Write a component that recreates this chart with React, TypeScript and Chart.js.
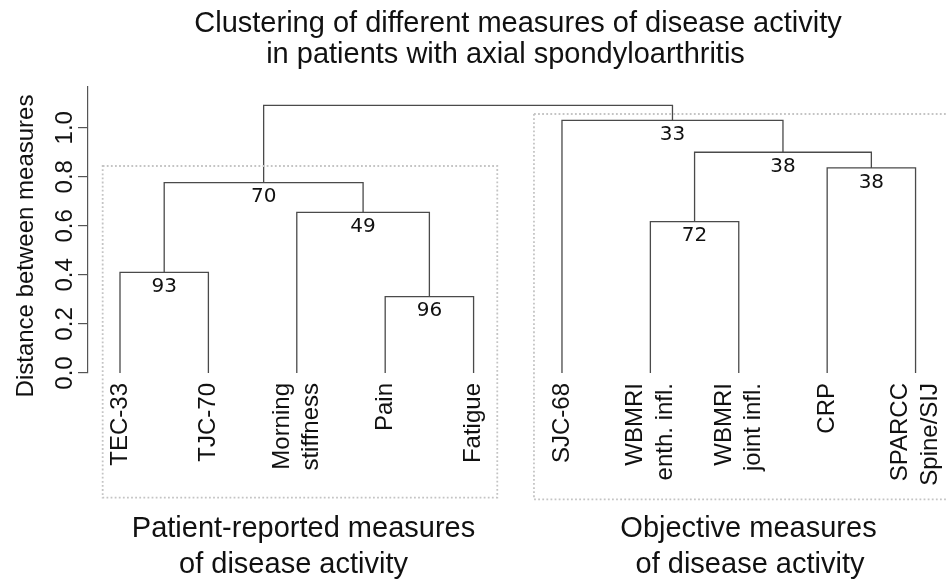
import React, { useEffect, useRef } from "react";
import { Chart, registerables } from "chart.js";

Chart.register(...registerables);

// ---------- data ----------
const leafLabels: string[][] = [
  ["TEC-33"],
  ["TJC-70"],
  ["Morning", "stiffness"],
  ["Pain"],
  ["Fatigue"],
  ["SJC-68"],
  ["WBMRI", "enth. infl."],
  ["WBMRI", "joint infl."],
  ["CRP"],
  ["SPARCC", "Spine/SIJ"],
];
// merge steps: negative = leaf (1-based), positive = earlier merge (1-based)
const mergeLeft = [-4, -1, -7, -3, 2, -9, 3, -6, 5];
const mergeRight = [-5, -2, -8, 1, 4, -10, 6, 7, 8];
const mergeHeight = [0.311, 0.41, 0.617, 0.655, 0.776, 0.836, 0.9, 1.03, 1.091];
const mergeSupport = ["96", "93", "72", "49", "70", "38", "38", "33", ""];
const yTicks = [0, 0.2, 0.4, 0.6, 0.8, 1.0];
const titleLines = [
  "Clustering of different measures of disease activity",
  "in patients with axial spondyloarthritis",
];
const yTitle = "Distance between measures";
const groupTitles = [
  ["Patient-reported measures", "of disease activity"],
  ["Objective measures", "of disease activity"],
];

// ---------- derived tree geometry (data units) ----------
const leafX = leafLabels.map((_, i) => i + 1);
const nodeX: number[] = [];
const nodePos = (id: number) =>
  id < 0 ? { x: leafX[-id - 1], h: 0 } : { x: nodeX[id - 1], h: mergeHeight[id - 1] };
const segments = mergeLeft.map((l, k) => {
  const a = nodePos(l);
  const b = nodePos(mergeRight[k]);
  const h = mergeHeight[k];
  nodeX[k] = (a.x + b.x) / 2;
  return [
    { x: a.x, y: a.h },
    { x: a.x, y: h },
    { x: b.x, y: h },
    { x: b.x, y: b.h },
  ];
});

const SANS = "'Liberation Sans', Arial, sans-serif";
const DEJAVU = "'DejaVu Sans', sans-serif";

const decorPlugin = {
  id: "decor",
  afterDraw(chart: any) {
    const ctx: CanvasRenderingContext2D = chart.ctx;
    const xs = chart.scales.x;
    const ys = chart.scales.y;
    const px = (v: number) => xs.getPixelForValue(v);
    const py = (v: number) => ys.getPixelForValue(v);
    ctx.save();

    // dotted group boxes
    ctx.strokeStyle = "#c4c4c4";
    ctx.lineWidth = 1.8;
    ctx.setLineDash([1.8, 2.3]);
    const boxes = [
      [0.804, 5.268, 0.844, -0.508],
      [5.683, 10.75, 1.056, -0.515],
    ];
    boxes.forEach(([x0, x1, y0, y1]) => {
      ctx.strokeRect(px(x0), py(y0), px(x1) - px(x0), py(y1) - py(y0));
    });
    ctx.setLineDash([]);

    // support numbers below merge lines
    ctx.fillStyle = "#111";
    ctx.font = `20px ${DEJAVU}`;
    ctx.textAlign = "center";
    ctx.textBaseline = "middle";
    mergeSupport.forEach((s, k) => {
      if (!s) return;
      ctx.fillText(s, px(nodeX[k]), py(mergeHeight[k]) + 14.5);
    });

    // leaf labels (rotated)
    ctx.font = `24px ${SANS}`;
    leafLabels.forEach((lines, i) => {
      ctx.save();
      ctx.translate(px(leafX[i]), py(0) + 10);
      ctx.rotate(-Math.PI / 2);
      ctx.textAlign = "right";
      ctx.textBaseline = "middle";
      const n = lines.length;
      lines.forEach((t, j) => {
        ctx.fillText(t, 0, (j - (n - 1) / 2) * 29.5);
      });
      ctx.restore();
    });

    // y tick labels (rotated)
    ctx.font = `24px ${SANS}`;
    ys.ticks.forEach((t: any) => {
      ctx.save();
      ctx.translate(71.5, py(t.value));
      ctx.rotate(-Math.PI / 2);
      ctx.textAlign = "center";
      ctx.textBaseline = "alphabetic";
      ctx.fillText(t.value.toFixed(1), 0, 0);
      ctx.restore();
    });

    // y axis title
    ctx.save();
    ctx.translate(33, (py(0) + ys.top) / 2 + 16);
    ctx.rotate(-Math.PI / 2);
    ctx.textAlign = "center";
    ctx.textBaseline = "alphabetic";
    ctx.fillText(yTitle, 0, 0);
    ctx.restore();

    // title
    ctx.font = `29px ${SANS}`;
    ctx.textAlign = "center";
    ctx.textBaseline = "alphabetic";
    ctx.fillText(titleLines[0], 518, 31.5);
    ctx.fillText(titleLines[1], 505.5, 62.5);

    // group titles
    ctx.fillText(groupTitles[0][0], 303.5, 536.5);
    ctx.fillText(groupTitles[0][1], 293.5, 573);
    ctx.fillText(groupTitles[1][0], 748.5, 536.5);
    ctx.fillText(groupTitles[1][1], 750, 573);

    ctx.restore();
  },
};

export default function App() {
  const ref = useRef<HTMLCanvasElement | null>(null);
  useEffect(() => {
    if (!ref.current) return;
    const chart = new Chart(ref.current, {
      type: "scatter",
      data: {
        datasets: segments.map((seg) => ({
          data: seg,
          showLine: true,
          borderColor: "#4a4a4a",
          borderWidth: 1.3,
          pointRadius: 0,
          pointHoverRadius: 0,
          tension: 0,
          clip: false as any,
        })),
      },
      options: {
        animation: false,
        responsive: false,
        devicePixelRatio: 1,
        events: [],
        layout: { padding: { left: 0, right: 0, top: 87, bottom: 209 } },
        plugins: { legend: { display: false }, tooltip: { enabled: false }, title: { display: false } },
        scales: {
          x: { type: "linear", min: 0.638, max: 10.367, display: false },
          y: {
            type: "linear",
            min: 0,
            max: 1.166,
            afterBuildTicks: (s: any) => {
              s.ticks = yTicks.map((v) => ({ value: v }));
            },
            afterFit: (s: any) => {
              s.width = 88;
            },
            ticks: { display: false },
            grid: {
              drawOnChartArea: false,
              drawTicks: true,
              tickLength: 10,
              color: "#555",
              lineWidth: 1.2,
            },
            border: { display: true, color: "#555", width: 1.2 },
          },
        },
      },
      plugins: [decorPlugin],
    });
    return () => chart.destroy();
  }, []);
  return (
    <div style={{ position: "absolute", left: 0, top: 0, width: 948, height: 582, background: "#fff" }}>
      <canvas ref={ref} width={948} height={582} />
    </div>
  );
}
